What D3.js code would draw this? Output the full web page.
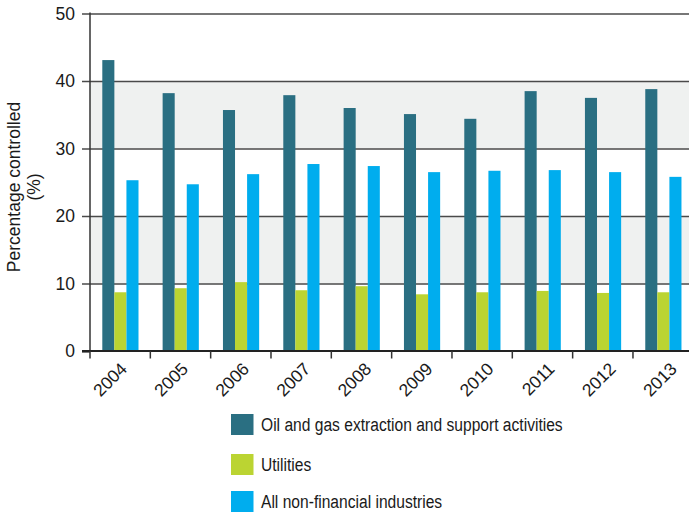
<!DOCTYPE html>
<html>
<head>
<meta charset="utf-8">
<script src="https://cdn.jsdelivr.net/npm/d3@7"></script>
<style>
  html, body { margin: 0; padding: 0; background: #fff; }
  svg { display: block; font-family: "Liberation Sans", Arial, sans-serif; }
</style>
</head>
<body>
<svg id="chart" width="689" height="512"></svg>
<script>
const years = ["2004","2005","2006","2007","2008","2009","2010","2011","2012","2013"];
const seriesNames = ["Oil and gas extraction and support activities", "Utilities", "All non-financial industries"];
const oilGas = [43.1, 38.2, 35.7, 37.9, 36.0, 35.1, 34.4, 38.5, 37.5, 38.8];
const utilities = [8.7, 9.3, 10.2, 9.0, 9.6, 8.4, 8.7, 8.9, 8.6, 8.7];
const allNonFin = [25.3, 24.7, 26.2, 27.7, 27.4, 26.5, 26.7, 26.8, 26.5, 25.8];
const yTicks = [0, 10, 20, 30, 40, 50];
const shadedBands = [[10, 20], [30, 40]];
const colors = ["#2a6f82", "#bbd432", "#00adee"];
const yLabelLines = ["Percentage controlled", "(%)"];

const svg = d3.select("#chart");
const mLeft = 90, mRight = 693.3, mTop = 13.5, mBottom = 351;
const condense = 0.83;

const y = d3.scaleLinear().domain([0, 50]).range([mBottom, mTop]);
const x = d3.scaleBand().domain(years).range([mLeft, mRight]).padding(0);
const xLabel = d3.scaleBand().domain(years).range([mLeft, mLeft + 611]).padding(0);
const x1 = d3.scaleBand().domain(seriesNames).range([12.3, 48.5]).padding(0);
const color = d3.scaleOrdinal().domain(seriesNames).range(colors);

// shaded bands
svg.append("g").selectAll("rect").data(shadedBands).join("rect")
  .attr("x", mLeft).attr("width", 689 - mLeft)
  .attr("y", d => y(d[1])).attr("height", d => y(d[0]) - y(d[1]))
  .attr("fill", "#eff1f0");

// gridlines + y axis
const yAxis = d3.axisLeft(y).tickValues(yTicks).tickSize(0).tickPadding(15);
const gy = svg.append("g").attr("transform", `translate(${mLeft},0)`).call(yAxis);
gy.select(".domain").remove();
gy.selectAll(".tick line").remove();
gy.selectAll(".tick text").attr("font-size", 17.5).attr("fill", "#1a1a1a")
  .attr("font-family", "Liberation Sans, Arial, sans-serif");
gy.selectAll(".tick").filter(d => d > 0).append("line")
  .attr("x1", -8).attr("x2", 689 - mLeft)
  .attr("stroke", "#4a4a4a").attr("stroke-width", 1.6);

// bars
const data = years.map((yr, i) => ({ year: yr, values: [oilGas[i], utilities[i], allNonFin[i]] }));
const groups = svg.append("g").selectAll("g").data(data).join("g")
  .attr("transform", d => `translate(${x(d.year)},0)`);
groups.selectAll("rect").data(d => d.values.map((v, k) => ({ name: seriesNames[k], value: v })))
  .join("rect")
  .attr("x", d => x1(d.name))
  .attr("width", x1.bandwidth())
  .attr("y", d => y(d.value))
  .attr("height", d => y(0) - y(d.value))
  .attr("fill", d => color(d.name));

// y axis vertical line
svg.append("line").attr("x1", mLeft).attr("x2", mLeft).attr("y1", mTop - 1).attr("y2", mBottom)
  .attr("stroke", "#333").attr("stroke-width", 1.5);

// x axis
const gx = svg.append("g").attr("transform", `translate(0,${mBottom})`)
  .call(d3.axisBottom(x).tickSize(0).tickFormat(d => d));
gx.select(".domain").remove();
gx.append("line").attr("x1", 82).attr("x2", 689).attr("stroke", "#222").attr("stroke-width", 2.2);
const bounds = years.map(yr => x(yr));
gx.selectAll(".btick").data(bounds).join("line").attr("class", "btick")
  .attr("x1", d => d).attr("x2", d => d).attr("y1", 0).attr("y2", 7.5)
  .attr("stroke", "#333").attr("stroke-width", 1.5);
gy.selectAll(".tick").filter(d => d === 0).append("line")
  .attr("x1", -8).attr("x2", 0).attr("stroke", "#222").attr("stroke-width", 2.2);

gx.selectAll(".tick text")
  .attr("font-size", 17.5).attr("fill", "#1a1a1a")
  .attr("font-family", "Liberation Sans, Arial, sans-serif")
  .attr("text-anchor", "end")
  .attr("dy", 0).attr("y", 0)
  .attr("transform", d => {
    const shift = (xLabel(d) + xLabel.bandwidth() / 2) - (x(d) + x.bandwidth() / 2);
    return `translate(${7.5 + shift},19) rotate(-45)`;
  });

// y label
const yl = svg.append("text").attr("transform", "translate(0,187) rotate(-90)")
  .attr("text-anchor", "middle").attr("font-size", 17.5).attr("fill", "#1a1a1a");
yl.selectAll("tspan").data(yLabelLines).join("tspan")
  .attr("x", 0).attr("y", (d, i) => 20 + i * 19.5).text(d => d);

// legend
const legendRows = [414, 454, 491];
const lg = svg.append("g").selectAll("g").data(seriesNames).join("g")
  .attr("transform", (d, i) => `translate(231,${legendRows[i]})`);
lg.append("rect").attr("width", 22.5).attr("height", 21).attr("fill", d => color(d));
lg.append("text").attr("transform", `translate(30,17) scale(${condense},1)`)
  .attr("font-size", 18.8).attr("fill", "#1a1a1a").text(d => d);
</script>
</body>
</html>
